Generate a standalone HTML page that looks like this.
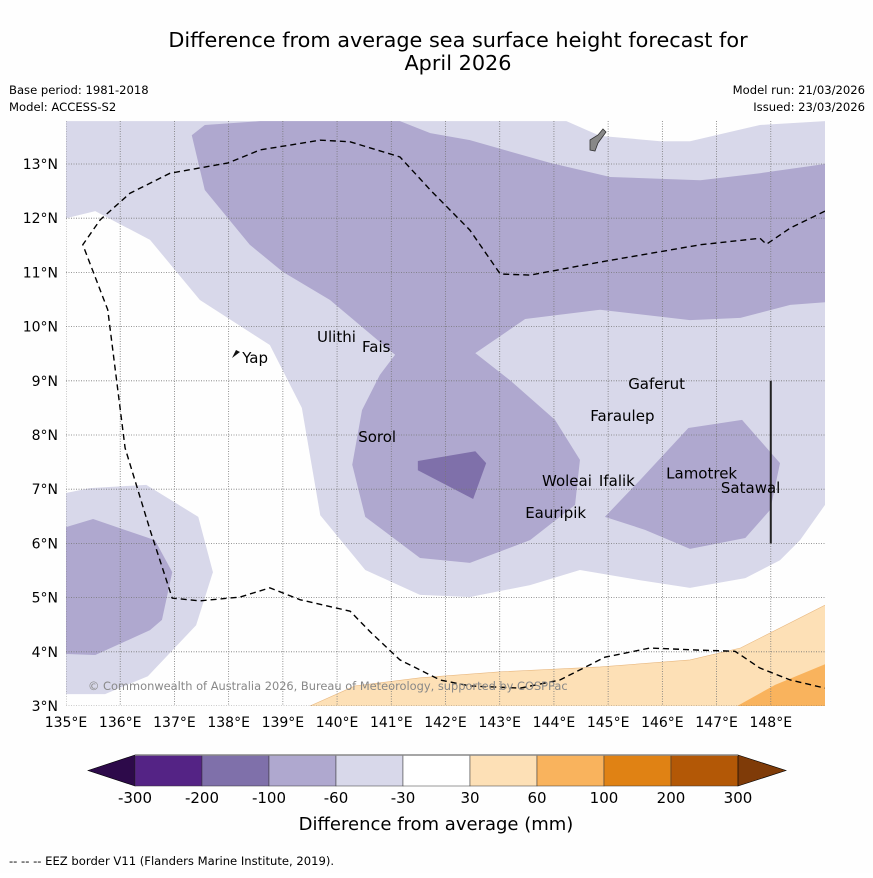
<!DOCTYPE html>
<html><head><meta charset="utf-8"><style>
body{margin:0;background:#fff;}
svg text{font-family:"DejaVu Sans","Liberation Sans",sans-serif;}
</style></head><body>
<svg id="c" width="873" height="873" xmlns="http://www.w3.org/2000/svg">
<rect width="873" height="873" fill="#fefefe"/>
<text x="458" y="47" font-size="20.8" text-anchor="middle">Difference from average sea surface height forecast for</text>
<text x="458" y="70" font-size="20.8" text-anchor="middle">April 2026</text>
<text x="9" y="94" font-size="11.6">Base period: 1981-2018</text>
<text x="9" y="111" font-size="11.6">Model: ACCESS-S2</text>
<text x="865" y="94" font-size="11.6" text-anchor="end">Model run: 21/03/2026</text>
<text x="865" y="111" font-size="11.6" text-anchor="end">Issued: 23/03/2026</text>
<g id="map"></g>
<g id="cb"></g>
<text x="436" y="830" font-size="18" text-anchor="middle">Difference from average (mm)</text>
<text x="9" y="865" font-size="11.6">--  --  -- EEZ border V11 (Flanders Marine Institute, 2019).</text>
</svg>
<script>
const lonTicks=[135,136,137,138,139,140,141,142,143,144,145,146,147,148];
const latTicks=[3,4,5,6,7,8,9,10,11,12,13];
const light1=[[135,13.79],[144.23,13.79],[144.85,13.52],[145.96,13.42],[146.51,13.42],[147.8,13.72],[149,13.79],[149,6.71],[148.54,6.06],[148.17,5.69],[147.53,5.36],[146.51,5.18],[145.59,5.32],[144.48,5.51],[143.56,5.23],[142.45,5.01],[141.53,5.05],[140.52,5.51],[139.69,6.52],[139.35,8.5],[138.76,9.66],[137.47,10.49],[136.55,11.6],[135.54,12.13],[135,12.0]];
const light2=[[135,6.93],[135.44,7.02],[136.48,7.08],[137.44,6.49],[137.71,5.47],[137.4,4.49],[136.51,3.55],[135.72,3.22],[135,3.22]];
const medTop=[[137.32,13.53],[137.56,13.72],[138.58,13.79],[141.16,13.79],[141.72,13.57],[142.45,13.44],[143.93,13.02],[145.04,12.76],[146.7,12.7],[147.8,12.83],[149,13.0],[149,10.45],[148.36,10.4],[147.44,10.16],[146.51,10.12],[144.85,10.31],[143.47,10.14],[142.55,9.51],[143.19,9.01],[144.02,8.28],[144.48,7.54],[144.39,6.71],[143.56,6.06],[142.45,5.64],[141.53,5.73],[140.52,6.49],[140.28,7.45],[140.46,8.46],[140.79,9.11],[141.07,9.48],[139.87,10.49],[139.0,11.01],[138.39,11.51],[137.56,12.52]];
const medRight=[[144.94,6.49],[145.59,7.17],[146.48,8.13],[147.47,8.28],[148.17,7.48],[147.99,6.62],[147.53,6.1],[146.51,5.9],[145.68,6.25]];
const medLeft=[[135,6.3],[135.5,6.45],[136.64,6.06],[136.96,5.47],[136.77,4.59],[136.55,4.4],[135.54,3.94],[135,3.96]];
const dark=[[141.49,7.52],[142.55,7.7],[142.75,7.48],[142.51,6.82],[141.49,7.35]];
const orange1=[[139.5,3],[140.33,3.37],[141.53,3.52],[143.01,3.63],[144.85,3.72],[146.51,3.85],[147.44,4.07],[149,4.86],[149,3]];
const orange2=[[147.38,3],[148.08,3.39],[149,3.77],[149,3]];
const eez=[[149,12.13],[148.36,11.82],[147.92,11.52],[147.8,11.63],[146.7,11.51],[144.85,11.19],[143.56,10.95],[143.01,10.97],[142.45,11.78],[141.72,12.52],[141.16,13.13],[140.24,13.41],[139.69,13.44],[138.58,13.26],[137.99,13.02],[136.92,12.83],[136.18,12.46],[135.63,11.97],[135.31,11.51],[135.77,10.31],[136.09,7.76],[136.55,6.25],[136.96,4.99],[137.47,4.94],[138.21,5.01],[138.76,5.18],[139.32,4.96],[140.24,4.75],[140.61,4.37],[141.16,3.85],[141.9,3.48],[142.45,3.37],[143.38,3.33],[144.11,3.48],[144.94,3.9],[145.77,4.07],[146.7,4.03],[147.34,4.01],[147.8,3.7],[148.36,3.48],[149,3.33]];
const islandNames=["Ulithi","Fais","Yap","Sorol","Gaferut","Faraulep","Woleai","Ifalik","Lamotrek","Satawal","Eauripik"];
const islandLon=[139.63,140.46,138.25,140.39,145.37,144.67,143.78,144.83,146.07,147.08,143.47];
const islandLat=[9.72,9.53,9.33,7.87,8.85,8.26,7.06,7.06,7.2,6.93,6.47];
const cbLabels=["-300","-200","-100","-60","-30","30","60","100","200","300"];
const cbColors=["#542385","#7f70aa","#afa8cf","#d8d8ea","#ffffff","#fde0b6","#f9b35d","#e08214","#b35806"];

const NS="http://www.w3.org/2000/svg";
const X0=66,X1=825,Y0=121,Y1=706;
const sx=lon=>X0+(lon-135)*(X1-X0)/14;
const sy=lat=>Y1-(lat-3)*54.2;
function mk(p,tag,attrs){const e=document.createElementNS(NS,tag);for(const k in attrs)e.setAttribute(k,attrs[k]);p.appendChild(e);return e;}
const map=document.getElementById('map');
const cp=mk(map,'clipPath',{id:'clip'});mk(cp,'rect',{x:X0,y:Y0,width:X1-X0,height:Y1-Y0});
const g=mk(map,'g',{'clip-path':'url(#clip)'});
function poly(pts,fill,name){const e=mk(g,'polygon',{points:pts.map(p=>sx(p[0])+','+sy(p[1])).join(' '),fill:fill});

}
poly(light1,'#d8d8ea','contour-light-main');
poly(light2,'#d8d8ea','contour-light-west');
poly(medTop,'#afa8cf','contour-medium-main');
poly(medRight,'#afa8cf','contour-medium-east');
poly(medLeft,'#afa8cf','contour-medium-west');
poly(dark,'#7f70aa','contour-dark');
poly(orange1,'#fde0b6','contour-orange-light');
poly(orange2,'#f9b35d','contour-orange');
[orange1].forEach(p=>{const e=mk(g,'polyline',{points:p.slice(0,-1).map(q=>sx(q[0])+','+sy(q[1])).join(' '),fill:'none',stroke:'#e8b880','stroke-width':0.6});

});
lonTicks.forEach(l=>{const e=mk(g,'line',{x1:sx(l),x2:sx(l),y1:Y0,y2:Y1,stroke:'#777','stroke-width':0.8,'stroke-dasharray':'1,1.5'});


const t=mk(map,'text',{x:sx(l),y:727,'font-size':14,'text-anchor':'middle'});t.textContent=l+'°E';

});
latTicks.forEach(l=>{const e=mk(g,'line',{x1:X0,x2:X1,y1:sy(l),y2:sy(l),stroke:'#777','stroke-width':0.8,'stroke-dasharray':'1,1.5'});


const t=mk(map,'text',{x:58,y:sy(l)+5,'font-size':14,'text-anchor':'end'});t.textContent=l+'°N';

});
const ez=mk(g,'polyline',{points:eez.map(p=>sx(p[0])+','+sy(p[1])).join(' '),fill:'none',stroke:'#000','stroke-width':1.4,'stroke-dasharray':'6,4'});


const vl=mk(g,'line',{x1:sx(148),x2:sx(148),y1:sy(9),y2:sy(6),stroke:'#222','stroke-width':2});


const gu=mk(g,'path',{d:'M590,140 L598,135 L603,129 L606,132 L598,143 L595,151 L590,150 Z',fill:'#888',stroke:'#333','stroke-width':0.8});


const yp=mk(g,'path',{d:'M232,358 L236,350 L240,352 L236,355 Z',fill:'#111'});


islandNames.forEach((n,i)=>{const t=mk(g,'text',{x:sx(islandLon[i]),y:sy(islandLat[i]),'font-size':15});t.textContent=n;

});
const cr=mk(g,'text',{x:88,y:690,'font-size':11.4,fill:'#888'});cr.textContent='© Commonwealth of Australia 2026, Bureau of Meteorology, supported by COSPPac';


const cb=document.getElementById('cb');
const cx0=135,cw=67,cy0=755,ch=31;
const lt=mk(cb,'polygon',{points:`88,${cy0+ch/2} ${cx0},${cy0} ${cx0},${cy0+ch}`,fill:'#2d0a4a',stroke:'#000','stroke-width':0.6});


cbColors.forEach((c,i)=>{const r=mk(cb,'rect',{x:cx0+i*cw,y:cy0,width:cw,height:ch,fill:c,stroke:'#333','stroke-width':0.5});

});
const xe=cx0+cbColors.length*cw;
const rt=mk(cb,'polygon',{points:`${xe},${cy0} ${xe+48},${cy0+ch/2} ${xe},${cy0+ch}`,fill:'#7f3b08',stroke:'#000','stroke-width':0.6});


mk(cb,'line',{x1:cx0,x2:xe,y1:cy0,y2:cy0,stroke:'#888','stroke-width':1.5});
cbLabels.forEach((l,i)=>{const t=mk(cb,'text',{x:cx0+i*cw,y:803,'font-size':15,'text-anchor':'middle'});t.textContent=l;

});
</script>
</body></html>
